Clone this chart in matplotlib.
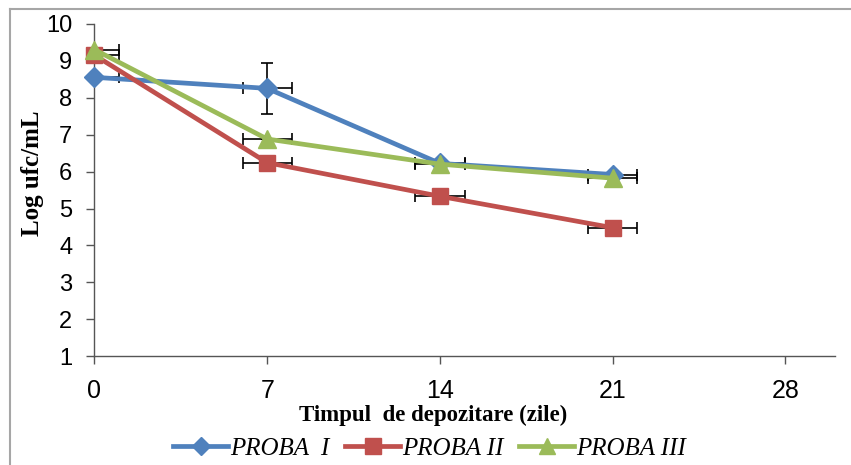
import matplotlib.pyplot as plt
from matplotlib.lines import Line2D

days = [0, 7, 14, 21]
proba_1 = [8.55, 8.25, 6.22, 5.92]
proba_2 = [9.15, 6.24, 5.33, 4.48]
proba_3 = [9.30, 6.88, 6.20, 5.82]
xerr_days = [1, 1, 1, 1]
yerr_1 = [0.0, 0.7, 0.0, 0.0]
yerr_2 = [0.0, 0.0, 0.0, 0.0]
yerr_3 = [0.0, 0.0, 0.0, 0.0]
series_names = ["PROBA  I", "PROBA II", "PROBA III"]
x_ticks = [0, 7, 14, 21, 28]
y_ticks = [1, 2, 3, 4, 5, 6, 7, 8, 9, 10]

colors = ["#4F81BD", "#C0504D", "#9BBB59"]
markers = ["D", "s", "^"]
msizes = [10, 12, 13]

fig = plt.figure(figsize=(8.51, 4.65), dpi=100)
ax = fig.add_axes([0.111, 0.2337, 0.870, 0.7153])

for vals, yerr, c, m, ms in zip([proba_1, proba_2, proba_3],
                                [yerr_1, yerr_2, yerr_3], colors, markers, msizes):
    ax.errorbar(days, vals, xerr=xerr_days, yerr=yerr, fmt="none",
                ecolor="black", elinewidth=1.2, capsize=4, capthick=1.2, zorder=2)
    ax.plot(days, vals, color=c, lw=3.4, marker=m, ms=ms, zorder=3, clip_on=False)

ax.set_xlim(0, 30)
ax.set_ylim(1, 10)
ax.set_xticks(x_ticks)
ax.set_yticks(y_ticks)
ax.tick_params(axis="x", labelsize=18, length=6, width=1, color="#555555", pad=10)
ax.tick_params(axis="y", labelsize=17, length=6, width=1, color="#555555", pad=10)
for lbl in ax.get_xticklabels() + ax.get_yticklabels():
    lbl.set_family("Liberation Sans")
for side in ["top", "right"]:
    ax.spines[side].set_visible(False)
for side in ["left", "bottom"]:
    ax.spines[side].set_color("#555555")
    ax.spines[side].set_linewidth(1)

ax.set_xlabel("Timpul  de depozitare (zile)", family="Liberation Serif",
              fontweight="bold", fontsize=16.5)
ax.xaxis.set_label_coords(0.458, -0.145)
ax.set_ylabel("Log ufc/mL", family="Liberation Serif", fontweight="bold",
              fontsize=18)
ax.yaxis.set_label_coords(-0.068, 0.55)

handles = [Line2D([], [], color=c, lw=3.4, marker=m, ms=ms - 1)
           for c, m, ms in zip(colors, markers, msizes)]
fig.legend(handles, series_names, loc="center", bbox_to_anchor=(0.505, 0.036),
           ncol=3, frameon=False, handlelength=2.2, handletextpad=0.1,
           columnspacing=0.6, prop={"family": "Liberation Serif",
                                    "style": "italic", "size": 18})

# grey frame left over from the cropped chart area
fig.add_artist(Line2D([10 / 851, 1], [1 - 9 / 465, 1 - 9 / 465],
                      transform=fig.transFigure, color="#A6A6A6", lw=1.5))
fig.add_artist(Line2D([10 / 851, 10 / 851], [0, 1 - 9 / 465],
                      transform=fig.transFigure, color="#A6A6A6", lw=1.5))

fig.savefig("out.png", dpi=100)
plt.close(fig)
